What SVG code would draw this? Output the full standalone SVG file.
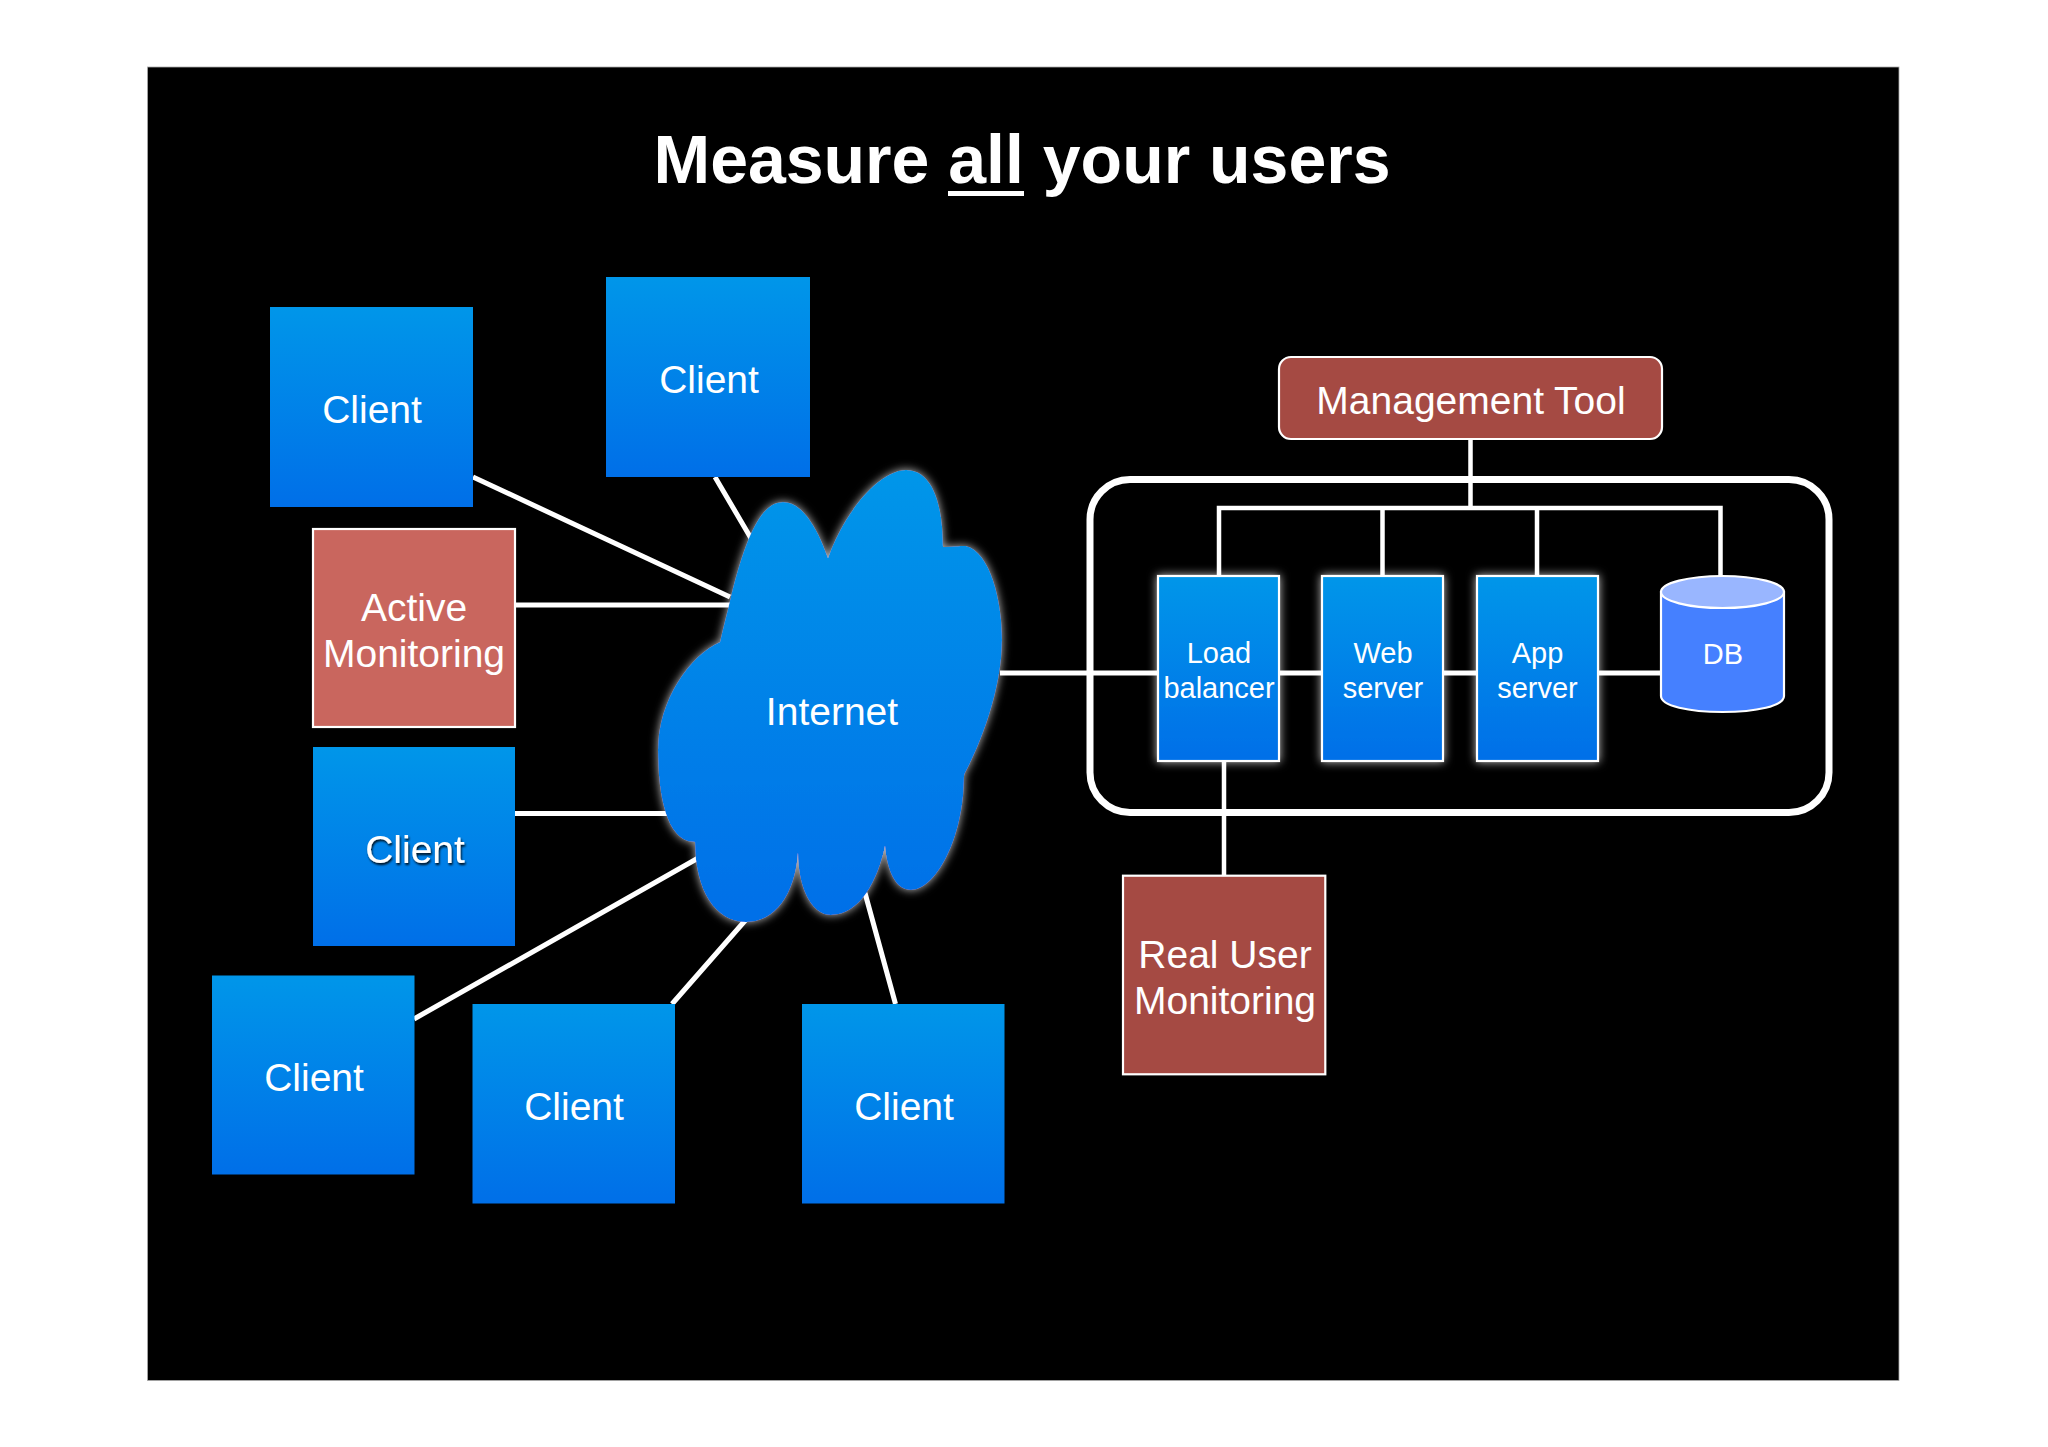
<svg xmlns="http://www.w3.org/2000/svg" width="2048" height="1447" viewBox="0 0 2048 1447">
<defs>
<linearGradient id="blue" x1="0" y1="0" x2="0" y2="1"><stop offset="0" stop-color="#0096e9"/><stop offset="1" stop-color="#006fe8"/></linearGradient>
<filter id="halo" x="-10%" y="-10%" width="120%" height="120%"><feDropShadow dx="0" dy="0" stdDeviation="5" flood-color="#fff" flood-opacity="0.75"/></filter>
<filter id="tshadow" x="-10%" y="-20%" width="120%" height="140%"><feDropShadow dx="1" dy="2" stdDeviation="1" flood-color="#000" flood-opacity="0.9"/></filter>
</defs>
<style>
text{font-family:"Liberation Sans",Arial,sans-serif;fill:#fff;text-anchor:middle}
.t{font-size:39px}.s{font-size:29px}
.title{font-size:68px;font-weight:700}
.c{fill:url(#blue)}
.st{stroke:#fff;stroke-width:2.200px}
.lnk{stroke:#fff;stroke-width:5px;fill:none}
.thin{stroke:#fff;stroke-width:4.500px;fill:none}
.red{fill:#a54a43}
</style>
<rect x="0" y="0" width="2048" height="1447" fill="#fff"/>
<rect x="147.500" y="67" width="1751.500" height="1313.500" fill="#000" stroke="#aaa" stroke-width="0.800"/>
<g id="title"><text class="title" x="1022" y="183">Measure all your users</text><rect x="948" y="191" width="76" height="5" fill="#fff"/></g>
<g id="connectors">
<path class="lnk" d="M473 477L730 597M515 605H735M715 477L752 540M515 813.500H680M414 1019L700 857M672 1004L750 915M895.500 1004L865 893"/>
<path class="lnk" d="M1000 673H1660"/>
<path class="thin" d="M1470.500 439V508M1219 576V508H1720.500V576M1382.500 508V576M1537 508V576M1224 761V875"/>
</g>
<g id="container"><rect x="1090" y="479.500" width="739" height="333" rx="40" ry="40" fill="none" stroke="#fff" stroke-width="7"/></g>
<g id="client1"><rect class="c" x="270" y="307" width="203" height="200"/><text class="t" x="372" y="423">Client</text></g>
<g id="client2"><rect class="c" x="606" y="277" width="204" height="200"/><text class="t" x="709" y="393">Client</text></g>
<g id="active"><rect class="st" fill="#c9665e" x="313" y="529" width="202" height="198"/><text class="t" x="414" y="620.500">Active</text><text class="t" x="414" y="666.500">Monitoring</text></g>
<g id="client3"><rect class="c" x="313" y="747" width="202" height="199"/><text class="t" x="415" y="862.500" filter="url(#tshadow)">Client</text></g>
<g id="client4"><rect class="c" x="212" y="975.500" width="202.500" height="199"/><text class="t" x="314" y="1091">Client</text></g>
<g id="client5"><rect class="c" x="472.500" y="1004" width="202.500" height="199.500"/><text class="t" x="574" y="1120">Client</text></g>
<g id="client6"><rect class="c" x="802" y="1004" width="202.500" height="199.500"/><text class="t" x="904" y="1120">Client</text></g>
<g id="internet"><path class="c" filter="url(#halo)" d="M828 558C845 510 880 470 906 470C935 470 943 510 943 547L945 547C955 546 962 546 966 546C990 552 1002 600 1002 640C1002 690 980 745 965 773L964 776C964 840 935 890 911 890C895 890 887 870 885 846C878 880 860 915 831 915C810 915 798 885 798 853C795 895 775 922 746 922C715 922 695 890 695 842C665 842 658 790 658 750C658 700 690 655 720 642C725 620 728 610 731 596C745 540 760 502 783 502C805 502 820 535 828 558Z"/><text class="t" x="832" y="724.500">Internet</text></g>
<g id="mgmt"><rect class="st red" x="1279" y="357" width="383" height="82" rx="12" ry="12"/><text class="t" x="1471" y="414">Management Tool</text></g>
<g id="lb"><rect class="c st" filter="url(#halo)" x="1158" y="576" width="121" height="185"/><text class="s" x="1219" y="663">Load</text><text class="s" x="1219" y="698">balancer</text></g>
<g id="web"><rect class="c st" filter="url(#halo)" x="1322" y="576" width="121" height="185"/><text class="s" x="1383" y="663">Web</text><text class="s" x="1383" y="698">server</text></g>
<g id="app"><rect class="c st" filter="url(#halo)" x="1477" y="576" width="121" height="185"/><text class="s" x="1537.500" y="663">App</text><text class="s" x="1537.500" y="698">server</text></g>
<g id="db"><path class="st" fill="#4580ff" d="M1661 592V696C1661 706 1689 712 1722.500 712C1756 712 1784 706 1784 696V592Z"/><ellipse class="st" fill="#99b6ff" cx="1722.500" cy="592" rx="61.500" ry="16"/><text class="s" x="1723" y="664">DB</text></g>
<g id="rum"><rect class="st red" x="1123" y="875.700" width="202.300" height="198.600"/><text class="t" x="1225" y="968">Real User</text><text class="t" x="1225" y="1014">Monitoring</text></g>
</svg>
